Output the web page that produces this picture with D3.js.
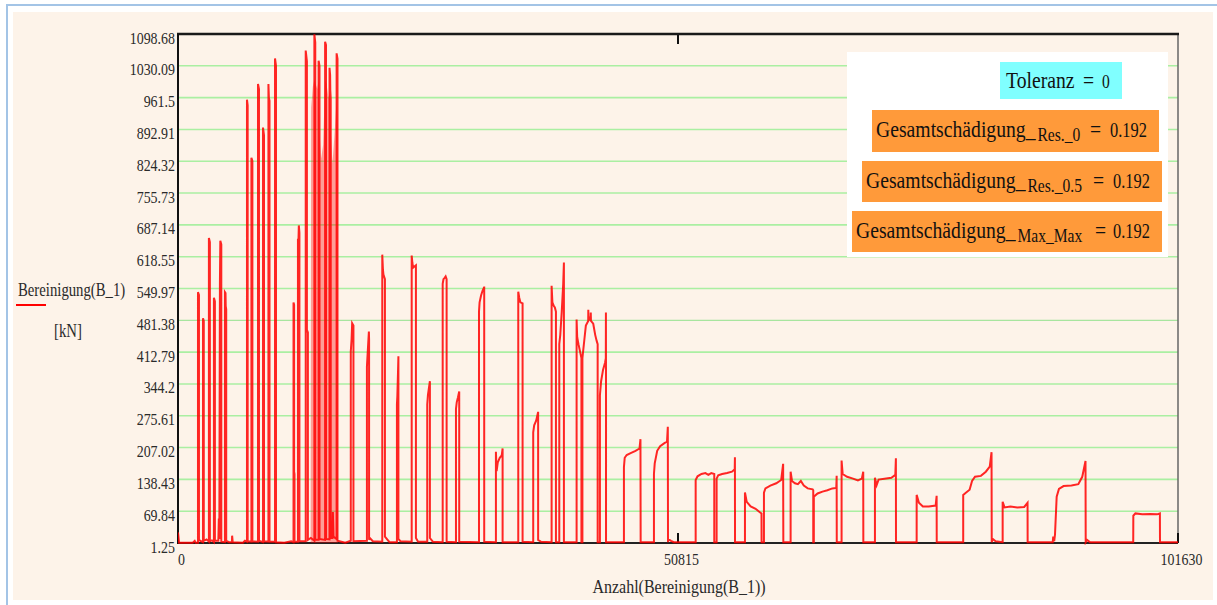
<!DOCTYPE html>
<html><head><meta charset="utf-8">
<script src="https://cdn.jsdelivr.net/npm/d3@7"></script>
<style>html,body{margin:0;padding:0;background:#fff;} svg{display:block;} text{font-family:"Liberation Serif","Times New Roman",serif;}</style>
</head><body><svg id="c" width="1217" height="605"></svg>
<script>
// ---------- data ----------
const xTicks = [0, 50815, 101630];
const yTicks = [1.25, 69.84, 138.43, 207.02, 275.61, 344.2, 412.79, 481.38, 549.97, 618.55, 687.14, 755.73, 824.32, 892.91, 961.5, 1030.09, 1098.68];
const seriesName = "Bereinigung(B_1)";
const unitLabel = "[kN]";
const xLabel = "Anzahl(Bereinigung(B_1))";
const toleranz = 0;
const damageLabels = ["Res._0", "Res._0.5", "Max_Max"];
const damageValues = [0.192, 0.192, 0.192];

// [sample index, kN]
const blocksEarly = [
 [0,24],[110,2],[1500,2],[1700,6],[1800,2],
 [2030,2],[2030,542],[2130,536],[2130,8],[2350,5],
 [2540,3],[2540,486],[2620,480],[2620,6],[2900,9],
 [3140,4],[3140,659],[3240,650],[3240,5],[3450,7],
 [3650,3],[3650,530],[3750,522],[3750,6],
 [4100,6],[4150,54],[4200,10],[4260,560],[4300,653],[4400,645],[4400,4],
 [4770,3],[4770,542],[4830,540],[4850,512],[4900,505],[4900,6],
 [5200,3],[5480,3],[5500,17],[5560,3],
 [6600,2],[6800,6],[7010,4],[7010,957],[7080,945],[7080,5],
 [7460,4],[7460,832],[7560,825],[7560,5],
 [8130,4],[8130,991],[8230,980],[8230,6],
 [8640,3],[8640,897],[8740,880],[8740,5],
 [9190,4],[9190,991],[9240,960],[9300,955],[9300,4],
 [9860,4],[9860,1046],[9960,1030],[9960,3],
 [10800,2]
];
const blocksPeak = [
 [11500,5],[11740,3],[11740,520],[11800,515],[11800,155],[11840,150],[11840,4],
 [12190,4],[12190,657],[12240,650],[12280,686],[12340,670],[12340,5],
 [12980,5],[12980,1063],[13100,1040],[13100,461],[13200,455],[13200,8],
 [13500,12],[13860,6],[13860,1098],[13950,1080],[13950,8],
 [14290,8],[14290,1041],[14380,1030],[14380,10],
 [14950,8],[14950,1082],[15040,1075],[15040,10],
 [15400,9],[15400,1026],[15460,1010],[15480,977],[15520,960],[15520,12],
 [15700,12],[15740,68],[15800,15],
 [16120,10],[16120,1057],[16210,1045],[16210,6],
 [17000,2],[17560,6],[17560,414],[17640,440],[17700,475],[17830,470],[17830,5],
 [19200,6],[19200,381],[19300,420],[19400,457],[19420,440],[19420,8],
 [19500,12],[19800,5]
];
// envelope of the densely oscillating region inside the highest cluster
const denseBand = [
 [13480,1.25],[13530,940],[13700,985],[13860,1000],[14000,990],[14150,980],[14290,1000],
 [14400,880],[14550,830],[14750,860],[14950,1000],[15100,990],[15300,960],[15420,975],
 [15550,880],[15700,820],[15900,880],[16120,960],[16220,900],[16260,1.25]
];
const blocksMid = [
 [20760,4],[20760,623],[20830,590],[20880,580],[21030,570],[21030,15],[21300,8],[21500,3],
 [22250,3],[22250,300],[22290,317],[22360,370],[22400,404],[22400,10],[22600,5],
 [23750,4],[23750,621],[23820,605],[23900,595],[24180,600],[24180,12],[24400,4],
 [25330,4],[25330,300],[25400,320],[25500,335],[25600,350],[25600,12],[25900,4],
 [26900,3],[26900,560],[26980,570],[27100,573],[27200,576],[27300,570],[27300,4],
 [28250,3],[28250,290],[28330,305],[28450,315],[28580,328],[28580,4],
 [30590,3],[30590,500],[30650,520],[30800,535],[30950,545],[31100,552],[31120,552],[31120,4],
 [32310,3],[32310,198],[32380,156],[32500,175],[32700,185],[32900,190],[32990,205],[32990,3],
 [34580,3],[34580,543],[34680,530],[34800,520],[35020,518],[35020,4],
 [36100,3],[36100,240],[36200,255],[36400,265],[36600,284],[36600,8],[36900,4],
 [37970,3],[37970,556],[38050,520],[38200,512],[38300,509],[38410,500],[38410,3],
 [38750,3],[38750,430],[38850,450],[39000,500],[39150,560],[39220,606],[39220,3],
 [40510,3],[40510,483],[40570,445],[40700,430],[40900,410],[41000,400],[41000,3],
 [41100,3],[41100,400],[41300,440],[41450,470],[41690,480],[41700,504],[41720,480],[41940,490],[41950,498],[41970,480],[42200,474],[42400,450],[42550,437],[42650,430],[42650,3],
 [42880,3],[42880,320],[43000,350],[43200,375],[43400,390],[43480,400],[43490,498],[43500,300],[43500,3]
];
const blocksLate = [
 [45320,3],[45320,165],[45400,185],[45600,191],[46000,195],[46500,200],[46900,205],[47000,225],[47020,3],
 [48370,3],[48370,150],[48450,173],[48700,200],[49000,210],[49400,216],[49700,220],[49780,252],[49800,3],
 [49820,10],[50100,6],[50400,3],
 [52610,3],[52610,137],[52800,145],[53200,150],[53600,152],[53900,148],[54200,152],[54500,150],[54500,3],
 [54740,3],[54740,140],[54900,147],[55300,150],[55800,152],[56300,155],[56580,160],[56600,186],[56610,3],
 [57620,3],[57620,110],[57800,90],[58200,80],[58700,75],[59100,68],[59300,65],[59310,3],
 [59550,3],[59550,110],[59700,119],[60200,125],[60800,130],[61300,137],[61500,172],[61520,3],
 [62260,3],[62260,155],[62400,135],[62700,130],[63000,128],[63300,135],[63600,125],[64000,119],[64500,117],[64560,115],[64560,3],
 [64620,3],[64620,101],[65000,108],[65500,112],[66000,115],[66500,119],[66900,120],[66940,146],[66950,3],
 [67440,3],[67440,179],[67550,150],[68000,144],[68600,140],[69100,136],[69500,140],[69640,155],[69650,3],
 [70830,3],[70830,142],[71000,126],[71200,138],[71800,140],[72500,142],[72900,148],[72960,184],[72970,3],
 [75070,3],[75070,105],[75300,88],[75700,80],[76300,80],[77000,82],[77100,103],[77110,3],
 [79800,3],[79800,105],[80100,110],[80450,116],[80700,135],[81000,144],[81600,146],[82100,155],[82500,166],[82680,197],[82700,3],
 [82800,10],[83100,5],
 [83810,3],[83810,90],[84000,78],[84600,80],[85300,78],[86000,79],[86340,88],[86350,3],
 [88900,3],[88950,15],[89050,5],[89130,20],[89300,101],[89530,118],[90000,124],[90800,125],[91500,128],[91900,144],[92230,178],[92250,3],
 [92400,8],[92700,3],
 [97080,3],[97090,60],[97300,65],[98000,63],[98800,64],[99500,63],[99790,65],[99800,3],[101630,3]
];

// ---------- drawing ----------
const SX = 0.82;
const svg = d3.select('#c');
svg.append('rect').attr('width',1217).attr('height',605).attr('fill','#fff');
svg.append('rect').attr('x',13).attr('y',12).attr('width',1200).attr('height',588).attr('fill','#FDF3E9');
svg.append('line').attr('x1',6).attr('x2',1217).attr('y1',5).attr('y2',5).attr('stroke','#A3C4E6').attr('stroke-width',2);
svg.append('line').attr('x1',7).attr('x2',7).attr('y1',4).attr('y2',605).attr('stroke','#A3C4E6').attr('stroke-width',2);

const M = {left:178, right:1178, top:34, bottom:543};
const x = d3.scaleLinear().domain([xTicks[0], xTicks[xTicks.length-1]]).range([M.left, M.right]);
const y = d3.scaleLinear().domain([yTicks[0], yTicks[yTicks.length-1]]).range([M.bottom, M.top]);

function stext(g, px, py, str, size, anchor, fill){
  return g.append('text').attr('transform',`translate(${px},${py}) scale(${SX},1)`)
    .attr('font-size',size).attr('text-anchor',anchor||'start').attr('fill',fill||'#222').text(str);
}

// grid
svg.append('g').selectAll('line').data(yTicks.slice(1,-1)).join('line')
  .attr('x1',M.left).attr('x2',M.right)
  .attr('y1',d=>y(d)).attr('y2',d=>y(d))
  .attr('stroke',d=>d===481.38?'#93E28C':'#AAEFA2')
  .attr('stroke-width',d=>d===481.38?1:1.6);

// data
svg.append('clipPath').attr('id','clip').append('rect')
  .attr('x',M.left).attr('y',M.top-1).attr('width',M.right-M.left).attr('height',M.bottom-M.top+3);
const data = [].concat(blocksEarly, blocksPeak, blocksMid, blocksLate);
const line = d3.line().x(d=>x(d[0])).y(d=>y(d[1]));
const area = d3.area().x(d=>x(d[0])).y0(y(yTicks[0])).y1(d=>y(d[1]));

// frame
const fr = svg.append('g');
fr.append('line').attr('x1',M.left).attr('x2',M.right).attr('y1',M.bottom).attr('y2',M.bottom).attr('stroke','#222').attr('stroke-width',2);
fr.append('line').attr('x1',M.right).attr('x2',M.right).attr('y1',M.top).attr('y2',M.bottom).attr('stroke','#666').attr('stroke-width',1.5);
fr.append('line').attr('x1',M.right).attr('x2',M.right).attr('y1',M.bottom-10).attr('y2',M.bottom).attr('stroke','#111').attr('stroke-width',2);
fr.append('line').attr('x1',x(xTicks[1])).attr('x2',x(xTicks[1])).attr('y1',M.bottom-10).attr('y2',M.bottom).attr('stroke','#111').attr('stroke-width',2);
fr.append('line').attr('x1',x(xTicks[1])).attr('x2',x(xTicks[1])).attr('y1',M.top).attr('y2',M.top+10).attr('stroke','#111').attr('stroke-width',2);

svg.append('path').datum(denseBand).attr('clip-path','url(#clip)')
  .attr('d',area).attr('fill','#FF0000').attr('fill-opacity',0.35);
svg.append('path').datum(data).attr('clip-path','url(#clip)')
  .attr('d',line).attr('fill','none').attr('stroke','#FF0000')
  .attr('stroke-width',2).attr('stroke-opacity',0.85).attr('stroke-linejoin','miter');

fr.append('line').attr('x1',M.left-1).attr('x2',M.right+1).attr('y1',M.top).attr('y2',M.top).attr('stroke','#1a1a1a').attr('stroke-width',2.5);
fr.append('line').attr('x1',M.left).attr('x2',M.left).attr('y1',M.top).attr('y2',M.bottom+1).attr('stroke','#111').attr('stroke-width',2);

// axes
const yAxis = svg.append('g').attr('transform',`translate(${M.left-3},0)`)
  .call(d3.axisLeft(y).tickValues(yTicks).tickSize(0).tickPadding(0).tickFormat(d=>String(d)));
yAxis.select('.domain').remove();
yAxis.selectAll('text').attr('x',0).attr('dy',null).attr('font-family','Liberation Serif')
  .attr('font-size',17).attr('fill','#2a2a2a').attr('transform',`translate(0,9) scale(${SX},1)`);

const xAxis = svg.append('g').attr('transform',`translate(0,${M.bottom})`)
  .call(d3.axisBottom(x).tickValues(xTicks).tickSize(0).tickPadding(0).tickFormat(d=>String(d)));
xAxis.select('.domain').remove();
xAxis.selectAll('text').attr('y',0).attr('dy',null).attr('font-family','Liberation Serif')
  .attr('font-size',17).attr('fill','#2a2a2a').attr('transform',`translate(3,22) scale(${SX},1)`);

stext(svg, 679, 593, xLabel, 19.5, 'middle', '#2a2a2a');

// legend
stext(svg, 18, 296, seriesName, 18, 'start', '#2a2a2a');
svg.append('line').attr('x1',16).attr('x2',46).attr('y1',305).attr('y2',305).attr('stroke','#FF0000').attr('stroke-width',2);
stext(svg, 54, 337, unitLabel, 18, 'start', '#2a2a2a');

// annotation
const an = svg.append('g');
an.append('rect').attr('x',847).attr('y',52).attr('width',321).attr('height',205).attr('fill','#FFFFFF');
an.append('rect').attr('x',1000).attr('y',62).attr('width',122).attr('height',37).attr('fill','#80FFFF');
stext(an, 1006, 88, 'Toleranz', 24, 'start', '#111');
stext(an, 1083, 88, '=', 24, 'start', '#111');
stext(an, 1102, 88, String(toleranz), 19, 'start', '#111');

const boxes = [
  {x:872, y:110, w:287, h:42, tx:876, eq:1090, val:1110},
  {x:862, y:161, w:300, h:41, tx:866, eq:1093, val:1113},
  {x:852, y:211, w:310, h:41, tx:856, eq:1095, val:1113}
];
boxes.forEach((b,i)=>{
  an.append('rect').attr('x',b.x).attr('y',b.y).attr('width',b.w).attr('height',b.h).attr('fill','#FF9A3A');
  const base = b.y + 27;
  const t = stext(an, b.tx, base, 'Gesamtschädigung_', 24, 'start', '#111');
  const w = t.node().getBBox().width * SX;
  stext(an, b.tx + w + 1, base + 4, damageLabels[i], 19, 'start', '#111');
  stext(an, b.eq, base, '=', 24, 'start', '#111');
  stext(an, b.val, base, String(damageValues[i]), 20, 'start', '#111');
});
</script></body></html>
